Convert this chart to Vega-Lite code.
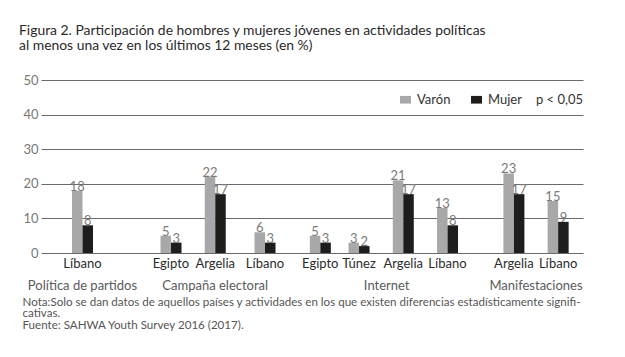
{
  "$schema": "https://vega.github.io/schema/vega-lite/v6.json",
  "width": 542,
  "height": 173,
  "autosize": {"type": "none"},
  "padding": {"left": 41, "top": 80, "right": 42, "bottom": 104},
  "background": "white",
  "config": {
    "view": {"stroke": null},
    "font": "Lato"
  },
  "title": {
    "text": ["Figura 2. Participación de hombres y mujeres jóvenes en actividades políticas", "al menos una vez en los últimos 12 meses (en %)"],
    "anchor": "start",
    "frame": "group",
    "dx": -22,
    "fontSize": 13.9,
    "fontWeight": "normal",
    "color": "#2a2a2a",
    "lineHeight": 15.5,
    "offset": 21
  },
  "data": {
    "values": [
      {"grupo": "Política de partidos / Líbano", "sexo": "Varón", "valor": 18},
      {"grupo": "Política de partidos / Líbano", "sexo": "Mujer", "valor": 8},
      {"grupo": "Campaña electoral / Egipto", "sexo": "Varón", "valor": 5},
      {"grupo": "Campaña electoral / Egipto", "sexo": "Mujer", "valor": 3},
      {"grupo": "Campaña electoral / Argelia", "sexo": "Varón", "valor": 22},
      {"grupo": "Campaña electoral / Argelia", "sexo": "Mujer", "valor": 17},
      {"grupo": "Campaña electoral / Líbano", "sexo": "Varón", "valor": 6},
      {"grupo": "Campaña electoral / Líbano", "sexo": "Mujer", "valor": 3},
      {"grupo": "Internet / Egipto", "sexo": "Varón", "valor": 5},
      {"grupo": "Internet / Egipto", "sexo": "Mujer", "valor": 3},
      {"grupo": "Internet / Túnez", "sexo": "Varón", "valor": 3},
      {"grupo": "Internet / Túnez", "sexo": "Mujer", "valor": 2},
      {"grupo": "Internet / Argelia", "sexo": "Varón", "valor": 21},
      {"grupo": "Internet / Argelia", "sexo": "Mujer", "valor": 17},
      {"grupo": "Internet / Líbano", "sexo": "Varón", "valor": 13},
      {"grupo": "Internet / Líbano", "sexo": "Mujer", "valor": 8},
      {"grupo": "Manifestaciones / Argelia", "sexo": "Varón", "valor": 23},
      {"grupo": "Manifestaciones / Argelia", "sexo": "Mujer", "valor": 17},
      {"grupo": "Manifestaciones / Líbano", "sexo": "Varón", "valor": 15},
      {"grupo": "Manifestaciones / Líbano", "sexo": "Mujer", "valor": 9}
    ]
  },
  "encoding": {
    "xOffset": {
      "field": "sexo",
      "type": "nominal",
      "scale": {"domain": ["Varón", "Mujer"], "range": [-7.7, 13.3], "paddingInner": 0, "paddingOuter": 0}
    },
    "y": {
      "field": "valor",
      "type": "quantitative",
      "scale": {"domain": [0, 50]},
      "axis": {
        "title": null,
        "values": [0, 10, 20, 30, 40, 50],
        "grid": true,
        "gridColor": "#6a6a6a",
        "gridWidth": 1.2,
        "domain": false,
        "ticks": false,
        "labelFontSize": 13,
        "labelColor": "#777777",
        "labelPadding": 3
      }
    }
  },
  "resolve": {"axis": {"x": "independent"}},
  "layer": [
    {
      "mark": {"type": "bar"},
      "encoding": {
        "x": {
          "field": "grupo",
          "type": "nominal",
          "sort": null,
          "scale": {
            "domain": ["_0","_1","_2","_3","_4","_5","_6","Política de partidos / Líbano","_8","_9","_10","_11","_12","_13","_14","_15","_16","_17","_18","_19","_20","_21","_22","Campaña electoral / Egipto","_24","_25","_26","_27","_28","_29","_30","Campaña electoral / Argelia","_32","_33","_34","_35","_36","_37","_38","_39","Campaña electoral / Líbano","_41","_42","_43","_44","_45","_46","_47","_48","_49","Internet / Egipto","_51","_52","_53","_54","_55","_56","Internet / Túnez","_58","_59","_60","_61","Internet","_63","_64","Internet / Argelia","_66","_67","_68","_69","_70","_71","_72","Internet / Líbano","_74","_75","_76","_77","_78","_79","_80","_81","_82","_83","_84","Manifestaciones / Argelia","_86","_87","_88","Manifestaciones","_90","_91","_92","Manifestaciones / Líbano","_94","_95","_96","_97"],
            "paddingInner": 0,
            "paddingOuter": 0
          },
          "axis": {
            "orient": "bottom",
            "title": ["Nota:Solo se dan datos de aquellos países y actividades en los que existen diferencias estadísticamente signifi-", "cativas.", "Fuente: SAHWA Youth Survey 2016 (2017)."],
            "titleAnchor": "start",
            "titleAlign": "left",
            "titleBaseline": "top",
            "titleX": -19,
            "titleY": 43,
            "titleFontSize": 11.6,
            "titleFontWeight": "normal",
            "titleColor": "#555555",
            "titleLineHeight": 11.6,
            "labelExpr": "indexof(datum.value, ' / ') > 0 ? split(datum.value, ' / ')[1] : ''",
            "labelAngle": 0,
            "labelOverlap": false,
            "labelBound": false,
            "labelFontSize": 13,
            "labelColor": "#2b2b2b",
            "labelPadding": 4,
            "ticks": false,
            "domain": false,
            "grid": false
          }
        },
        "color": {
          "field": "sexo",
          "type": "nominal",
          "scale": {"domain": ["Varón", "Mujer"], "range": ["#a7a8aa", "#1d1d1b"]},
          "legend": {
            "title": "p < 0,05",
            "titleOrient": "right",
            "titleFontSize": 13,
            "titleFontWeight": "normal",
            "titleColor": "#333333",
            "titlePadding": 14,
            "orient": "none",
            "legendX": 358,
            "legendY": 13,
            "direction": "horizontal",
            "symbolType": "M-1.43,-1H1.43V1H-1.43Z",
            "symbolSize": 59,
            "symbolStrokeWidth": 0,
            "symbolOpacity": 1,
            "labelFontSize": 13,
            "labelColor": "#333333",
            "labelOffset": 5,
            "columnPadding": 19
          }
        }
      }
    },
    {
      "mark": {"type": "text", "baseline": "alphabetic", "dy": 0, "fontSize": 13, "color": "#7a7a7a"},
      "encoding": {
        "x": {
          "field": "grupo",
          "type": "nominal",
          "sort": null,
          "axis": {
            "orient": "bottom",
            "title": null,
            "labelExpr": "datum.value == 'Política de partidos / Líbano' ? 'Política de partidos' : datum.value == 'Campaña electoral / Argelia' ? 'Campaña electoral' : (datum.value == 'Internet' || datum.value == 'Manifestaciones') ? datum.value : ''",
            "labelAngle": 0,
            "labelOverlap": false,
            "labelBound": false,
            "labelFontSize": 13,
            "labelColor": "#5a5a5a",
            "labelPadding": 26,
            "ticks": false,
            "domain": false,
            "grid": false
          }
        },
        "text": {"field": "valor", "type": "quantitative"}
      }
    }
  ]
}
